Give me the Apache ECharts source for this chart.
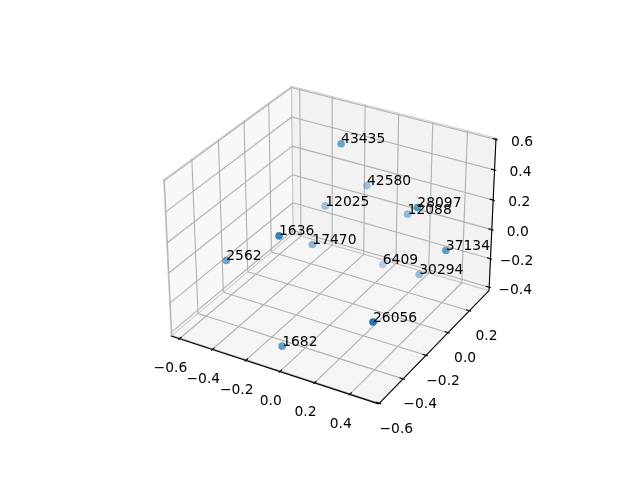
<!DOCTYPE html>
<html>
<head>
<meta charset="utf-8">
<style>
html, body { margin: 0; padding: 0; background: #fff; }
#main { width: 640px; height: 480px; }
</style>
<script src="https://cdn.jsdelivr.net/npm/echarts@6/dist/echarts.min.js"></script>
</head>
<body>
<div id="main"></div>
<script>
var labels = ['43435', '42580', '28097', '12088', '12025', '1636', '17470', '2562', '6409', '37134', '30294', '26056', '1682'];
var xValues = [-0.128, -0.057, 0.308, 0.182, -0.219, -0.181, -0.187, -0.486, 0.080, 0.488, 0.313, 0.369, -0.110];
var yValues = [0.079, 0.201, 0.094, 0.206, 0.074, -0.355, -0.080, -0.373, 0.145, 0.076, 0.119, -0.371, -0.438];
var zValues = [0.562, 0.229, 0.268, 0.108, 0.125, 0.229, -0.021, -0.023, -0.229, 0.053, -0.199, -0.138, -0.424];

var xTicks = [-0.6, -0.4, -0.2, 0, 0.2, 0.4];
var yTicks = [-0.6, -0.4, -0.2, 0, 0.2];
var zTicks = [-0.4, -0.2, 0, 0.2, 0.4, 0.6];
var xLim = [-0.651, 0.562];
var yLim = [-0.605, 0.39];
var zLim = [-0.424, 0.609];

// same camera as a default mplot3d view: elev 30, azim -60
var HALF = [0.5714, 0.5714, 0.4286];
var U = [0.866, 0.5, 0];
var V = [-0.25, 0.433, 0.866];
var W = [0.433, -0.75, 0.5];
var DIST = 9.6;
var SCALE = 1998, OX = 333, OY = 237.4;

function dot(a, b) { return a[0] * b[0] + a[1] * b[1] + a[2] * b[2]; }

function toBox(p) {
    return [
        ((p[0] - xLim[0]) / (xLim[1] - xLim[0]) * 2 - 1) * HALF[0],
        ((p[1] - yLim[0]) / (yLim[1] - yLim[0]) * 2 - 1) * HALF[1],
        ((p[2] - zLim[0]) / (zLim[1] - zLim[0]) * 2 - 1) * HALF[2]
    ];
}

function project(p) {
    var c = toBox(p);
    var d = DIST - dot(c, W);
    return [dot(c, U) / d, dot(c, V) / d];
}

function tickLabel(t) {
    return (t < 0 ? '\u2212' : '') + Math.abs(t).toFixed(1);
}

var depth = labels.map(function (s, i) { return dot(toBox([xValues[i], yValues[i], zValues[i]]), W); });
var dMin = Math.min.apply(null, depth), dMax = Math.max.apply(null, depth);

var points = labels.map(function (s, i) {
    return {
        name: s,
        depth: depth[i],
        value: project([xValues[i], yValues[i], zValues[i]]),
        itemStyle: { opacity: 0.3 + 0.7 * (depth[i] - dMin) / (dMax - dMin) }
    };
}).sort(function (a, b) { return a.depth - b.depth; });

function renderFrame(params, api) {
    var kids = [];
    function pt(p) { return api.coord(project(p)); }
    function pane(corners, fill) {
        kids.push({ type: 'polygon', shape: { points: corners.map(pt) },
            style: { fill: fill, stroke: 'rgba(190,190,190,0.7)', lineWidth: 1 } });
    }
    function seg(a, b, color, w) {
        var p = pt(a), q = pt(b);
        kids.push({ type: 'line', shape: { x1: p[0], y1: p[1], x2: q[0], y2: q[1] },
            style: { stroke: color, lineWidth: w } });
    }
    function text(p, s, dx, dy) {
        var c = pt(p);
        kids.push({ type: 'text', style: { text: s, x: c[0] + dx, y: c[1] + dy, align: 'center', verticalAlign: 'middle',
            fontFamily: 'DejaVu Sans', fontSize: 13.89, fill: '#000' } });
    }
    var x0 = xLim[0], x1 = xLim[1], y0 = yLim[0], y1 = yLim[1], z0 = zLim[0], z1 = zLim[1];
    var dx = (x1 - x0) / 12, dy = (y1 - y0) / 12;

    pane([[x0, y0, z0], [x0, y1, z0], [x0, y1, z1], [x0, y0, z1]], 'rgba(242,242,242,0.5)');
    pane([[x0, y1, z0], [x1, y1, z0], [x1, y1, z1], [x0, y1, z1]], 'rgba(230,230,230,0.5)');
    pane([[x0, y0, z0], [x1, y0, z0], [x1, y1, z0], [x0, y1, z0]], 'rgba(236,236,236,0.5)');

    var grid = '#b0b0b0';
    xTicks.forEach(function (t) {
        seg([t, y0, z0], [t, y1, z0], grid, 1.1);
        seg([t, y1, z0], [t, y1, z1], grid, 1.1);
    });
    yTicks.forEach(function (t) {
        seg([x1, t, z0], [x0, t, z0], grid, 1.1);
        seg([x0, t, z0], [x0, t, z1], grid, 1.1);
    });
    zTicks.forEach(function (t) {
        seg([x0, y0, t], [x0, y1, t], grid, 1.1);
        seg([x0, y1, t], [x1, y1, t], grid, 1.1);
    });

    seg([x0, y0, z0], [x1, y0, z0], '#000', 1.1);
    seg([x1, y0, z0], [x1, y1, z0], '#000', 1.1);
    seg([x1, y1, z0], [x1, y1, z1], '#000', 1.1);

    xTicks.forEach(function (t) {
        seg([t, y0 + dy * 0.2, z0], [t, y0 - dy * 0.1, z0], '#000', 1.1);
        text([t, y0, z0], tickLabel(t), -9, 30);
    });
    yTicks.forEach(function (t) {
        seg([x1 - dx * 0.2, t, z0], [x1 + dx * 0.1, t, z0], '#000', 1.1);
        text([x1, t, z0], tickLabel(t), 17, 26);
    });
    zTicks.forEach(function (t) {
        seg([x1 - dx * 0.2, y1, t], [x1 + dx * 0.1, y1, t], '#000', 1.1);
        text([x1, y1, t], tickLabel(t), 26, 2.8);
    });
    return { type: 'group', children: kids };
}

var myChart = echarts.init(document.getElementById('main'), null, { renderer: 'canvas' });
var option = {
    animation: false,
    backgroundColor: '#fff',
    grid: { left: 0, right: 0, top: 0, bottom: 0 },
    xAxis: { type: 'value', show: false, min: -OX / SCALE, max: (640 - OX) / SCALE },
    yAxis: { type: 'value', show: false, min: (OY - 480) / SCALE, max: OY / SCALE },
    series: [
        {
            type: 'custom',
            silent: true,
            z: 1,
            clip: false,
            renderItem: renderFrame,
            data: [[0, 0]]
        },
        {
            type: 'scatter',
            z: 2,
            symbolSize: 7.6,
            itemStyle: { color: '#1f77b4' },
            label: {
                show: true,
                formatter: '{b}',
                position: ['50%', '50%'],
                align: 'left',
                verticalAlign: 'bottom',
                offset: [0, 3],
                color: '#000',
                opacity: 1,
                fontFamily: 'DejaVu Sans',
                fontSize: 13.89
            },
            data: points
        }
    ]
};
myChart.setOption(option);
</script>
</body>
</html>
